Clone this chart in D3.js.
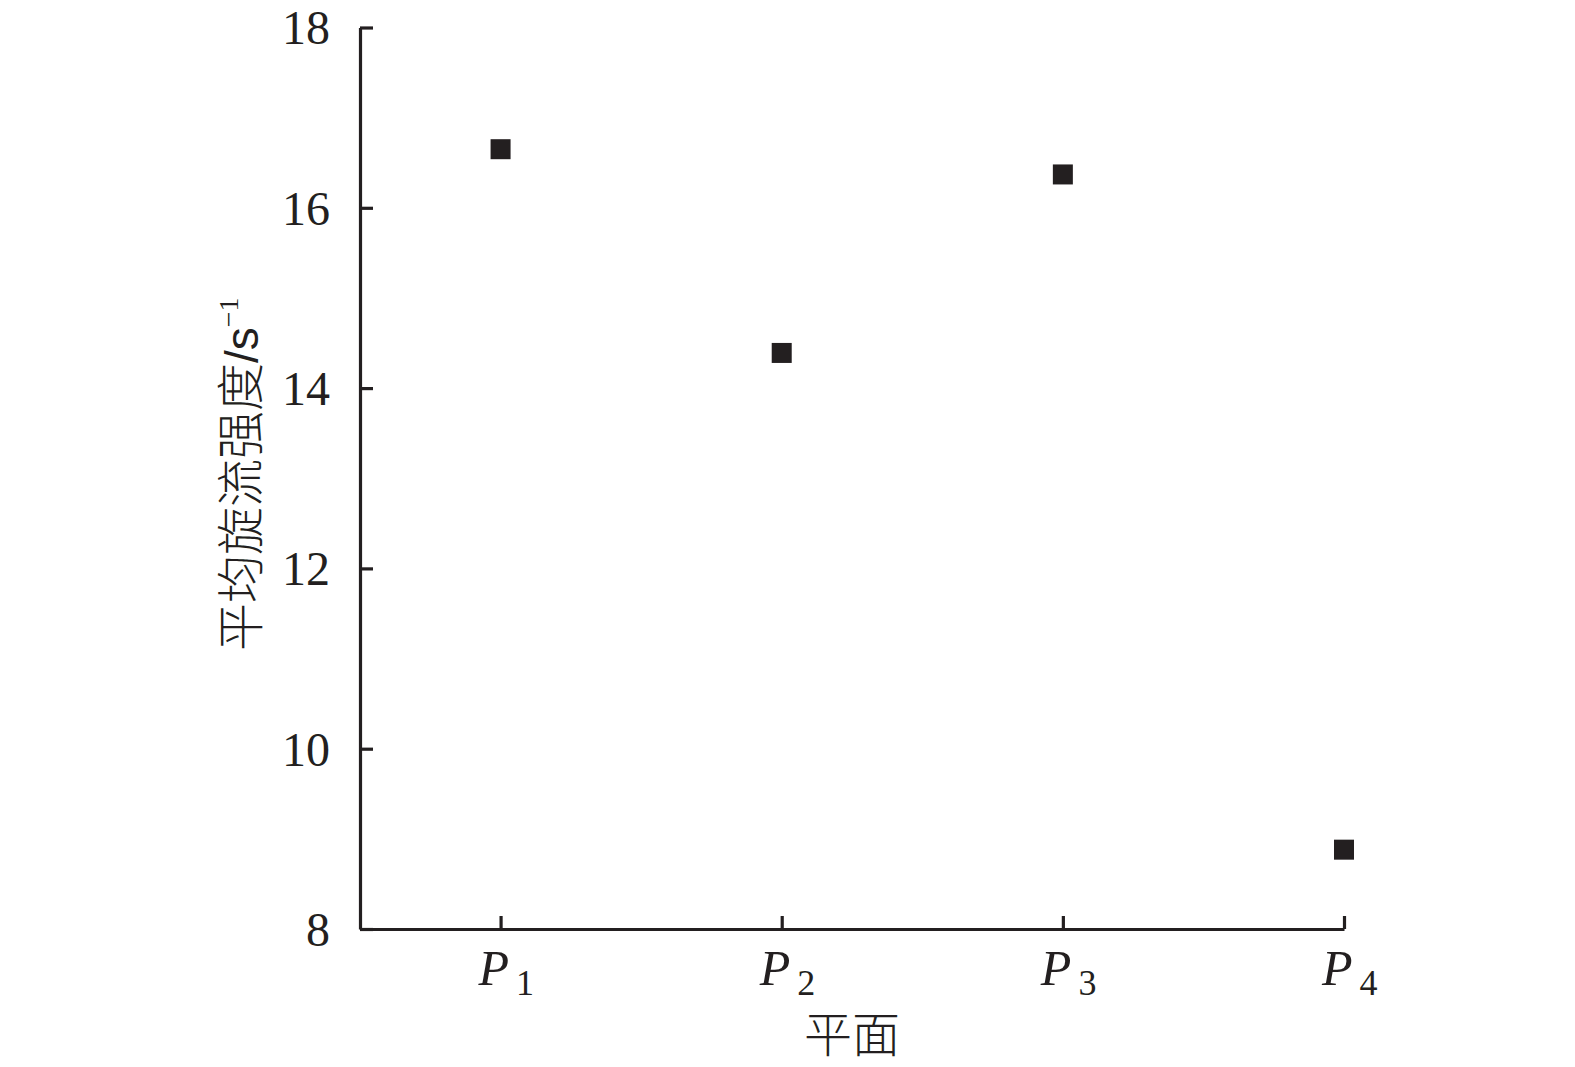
<!DOCTYPE html>
<html>
<head>
<meta charset="utf-8">
<script src="https://cdn.jsdelivr.net/npm/d3@7"></script>
<style>
  html, body { margin: 0; padding: 0; background: #fff; }
  svg { display: block; }
</style>
</head>
<body>
<script>
const categories = ["P1", "P2", "P3", "P4"];
const catMain = ["P", "P", "P", "P"];
const catSub = ["1", "2", "3", "4"];
const values = [16.65, 14.39, 16.37, 8.88];
const yTicks = [8, 10, 12, 14, 16, 18];
const yLabelMain = "平均旋流强度";
const yLabelUnit = "/s";
const yLabelSup = "−1";
const xLabel = "平面";

const W = 1575, H = 1067;
const ink = "#231f20";
const svg = d3.select("body").append("svg").attr("width", W).attr("height", H);

const x = d3.scaleLinear().domain([0.5, 4]).range([360, 1344]);
const y = d3.scaleLinear().domain([8, 18]).range([929, 27.5]);

// Y axis
const yAxis = d3.axisLeft(y).tickValues(yTicks).tickSizeInner(-13).tickSizeOuter(0).tickPadding(30).tickFormat(d3.format("d"));
const gy = svg.append("g").attr("transform", `translate(${x(0.5)},0)`).call(yAxis);
gy.select(".domain").attr("stroke", ink).attr("stroke-width", 3.2);
gy.selectAll(".tick line").attr("stroke", ink).attr("stroke-width", 3.2);
gy.selectAll(".tick text")
  .attr("font-family", "'Liberation Serif', 'Times New Roman', serif")
  .attr("font-size", 48).attr("fill", ink).attr("dy", "0.34em");

// X axis
const xAxis = d3.axisBottom(x).tickValues([1, 2, 3, 4]).tickSizeInner(-13).tickSizeOuter(0).tickFormat(() => "");
const gx = svg.append("g").attr("transform", `translate(0,${y(8)})`).call(xAxis);
gx.select(".domain").attr("stroke", ink).attr("stroke-width", 3.2);
gx.selectAll(".tick line").attr("stroke", ink).attr("stroke-width", 3.2);

// X tick labels with subscripts
categories.forEach((c, i) => {
  const t = svg.append("text")
    .attr("x", x(i + 1) - 22)
    .attr("y", 985)
    .attr("font-family", "'Liberation Serif', 'Times New Roman', serif")
    .attr("fill", ink);
  t.append("tspan").attr("font-size", 50).attr("font-style", "italic").text(catMain[i]);
  t.append("tspan").attr("font-size", 36).attr("font-style", "normal").attr("dx", 7).attr("dy", 10).text(catSub[i]);
});

// Points
svg.append("g").selectAll("rect").data(values).join("rect")
  .attr("x", (d, i) => x(i + 1) - 10)
  .attr("y", d => y(d) - 10)
  .attr("width", 20).attr("height", 20)
  .attr("fill", ink);

// Y label
const yl = svg.append("text")
  .attr("transform", `translate(258,${(y(8) + y(18)) / 2 - 4}) rotate(-90)`)
  .attr("text-anchor", "middle")
  .attr("fill", ink);
yl.append("tspan").attr("font-family", "'Noto Sans CJK SC', sans-serif").attr("font-weight", 300).attr("font-size", 48).text(yLabelMain);
yl.append("tspan").attr("font-family", "'Liberation Sans', Arial, sans-serif").attr("font-size", 46).text(yLabelUnit);
yl.append("tspan").attr("font-family", "'Liberation Serif', serif").attr("font-size", 28).attr("dy", -20).text(yLabelSup);

// X label
svg.append("text")
  .attr("x", (x(0.5) + x(4)) / 2).attr("y", 1052)
  .attr("text-anchor", "middle")
  .attr("font-family", "'Noto Sans CJK SC', sans-serif").attr("font-weight", 300)
  .attr("font-size", 48).attr("fill", ink)
  .text(xLabel);
</script>
</body>
</html>
